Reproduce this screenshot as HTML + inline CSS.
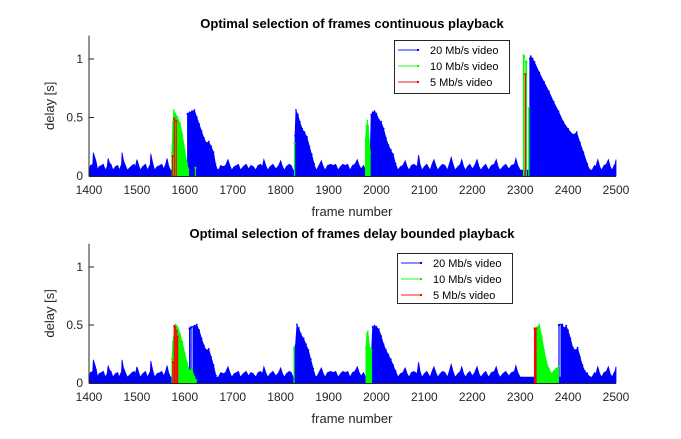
<!DOCTYPE html>
<html><head><meta charset="utf-8"><style>
body{margin:0;background:#fff}
svg{display:block;font-family:"Liberation Sans",Arial,sans-serif}
</style></head><body>
<svg id="chart" width="681" height="439" viewBox="0 0 681 439"></svg>
<script>
// ---- shared baseline data (frame, delay) ----
const baseX=[1400,1403,1408,1409,1412,1415,1418,1421,1426,1430,1434,1438,1440,1443,1446,1450,1455,1460,1463,1468,1469,1472,1476,1480,1485,1490,1494,1497,1500,1503,1507,1512,1518,1522,1528,1529,1533,1537,1542,1548,1552,1556,1560,1563,1566,1570,1575,1670,1675,1680,1685,1690,1694,1698,1703,1708,1712,1716,1722,1728,1733,1738,1743,1748,1753,1758,1762,1765,1769,1773,1778,1784,1790,1796,1800,1804,1808,1812,1818,1822,1826,1875,1880,1885,1889,1893,1898,1904,1910,1915,1920,1925,1930,1935,1940,1945,1950,1955,1960,1964,1968,1973,1977,2045,2050,2055,2060,2064,2068,2073,2078,2085,2088,2091,2095,2100,2105,2112,2116,2120,2124,2128,2133,2138,2143,2148,2152,2156,2160,2164,2170,2175,2178,2182,2186,2190,2195,2200,2205,2210,2214,2218,2223,2228,2234,2240,2246,2250,2254,2258,2264,2270,2276,2282,2288,2291,2295,2300,2303,2330,2445,2450,2455,2458,2462,2466,2470,2475,2480,2484,2488,2492,2496,2498,2500];
const baseY=[.04,.09,.10,.20,.16,.12,.05,.08,.09,.10,.05,.08,.15,.11,.10,.05,.08,.09,.05,.10,.20,.13,.09,.05,.07,.09,.10,.08,.14,.10,.05,.08,.10,.05,.10,.19,.11,.05,.08,.09,.10,.06,.10,.15,.09,.05,.05,.05,.09,.08,.09,.14,.09,.05,.08,.09,.10,.05,.08,.10,.06,.09,.08,.05,.09,.10,.08,.14,.09,.05,.08,.10,.06,.09,.13,.08,.05,.08,.10,.09,.05,.05,.09,.13,.08,.05,.09,.10,.09,.10,.05,.08,.10,.09,.10,.05,.09,.10,.14,.09,.06,.09,.05,.05,.08,.09,.13,.08,.05,.09,.10,.08,.18,.10,.05,.08,.10,.05,.10,.14,.09,.05,.08,.10,.09,.05,.10,.16,.10,.05,.08,.10,.14,.08,.05,.08,.10,.06,.09,.14,.08,.05,.08,.10,.05,.09,.10,.14,.08,.05,.08,.10,.06,.09,.10,.15,.09,.05,.05,.05,.05,.05,.09,.08,.14,.08,.05,.09,.10,.14,.08,.05,.09,.10,.14,.08];

// ---- top plot bursts ----
const topBlueAreas=[
 {x:[1607,1610,1615,1620,1625,1630,1635,1640,1645,1650,1655,1660,1664,1668],y:[0.53,0.54,0.55,0.56,0.50,0.44,0.38,0.32,0.28,0.29,0.25,0.20,0.10,0.05]},
 {x:[1830,1832,1836,1840,1845,1850,1855,1860,1865,1870,1874],y:[0.34,0.56,0.52,0.46,0.40,0.37,0.33,0.25,0.18,0.10,0.05]},
 {x:[1987,1989,1992,1996,2000,2005,2010,2015,2020,2025,2030,2035,2040,2045],y:[0.2,0.52,0.54,0.55,0.53,0.48,0.46,0.40,0.32,0.26,0.22,0.18,0.10,0.05]},
 {x:[2320,2322,2326,2330,2340,2350,2360,2370,2380,2390,2400,2410,2418,2425,2432,2440,2445],y:[1.0,1.02,1.0,0.97,0.88,0.80,0.72,0.63,0.55,0.46,0.40,0.35,0.37,0.28,0.2,0.1,0.05]}
];
const topGreenAreas=[
 {x:[1573,1575,1577,1580,1585,1590,1595,1600,1605,1608],y:[0.2,0.45,0.56,0.53,0.50,0.45,0.35,0.22,0.1,0.05]},
 {x:[1977,1979,1981,1983,1985,1987],y:[0.3,0.42,0.47,0.42,0.3,0.2]}
];
const topGreenStemX=[1622,1829,2307,2308,2312,2313,2318];
const topGreenStemY=[0.07,0.28,1.03,1.02,0.98,0.97,0.58];
const topRedStemX=[1574,1578,1582,2311];
const topRedStemY=[0.17,0.49,0.47,0.87];
const topBlueStemX=[1606];
const topBlueStemY=[0.53];

// ---- bottom plot bursts ----
const botGap=[2304,2329];
const botBlueAreas=[
 {x:[1617,1620,1625,1630,1635,1640,1645,1650,1655,1660,1665],y:[0.48,0.49,0.50,0.45,0.38,0.32,0.28,0.29,0.22,0.15,0.06]},
 {x:[1829,1831,1834,1838,1842,1848,1853,1858,1863,1868,1873],y:[0.3,0.32,0.5,0.47,0.42,0.38,0.33,0.28,0.20,0.12,0.05]},
 {x:[1990,1992,1996,2000,2005,2010,2015,2020,2025,2030,2035,2040,2045],y:[0.28,0.48,0.49,0.48,0.46,0.40,0.33,0.28,0.24,0.2,0.15,0.10,0.05]},
 {x:[2385,2388,2392,2396,2400,2405,2410,2415,2420,2425,2430,2435,2440,2445],y:[0.5,0.5,0.47,0.49,0.45,0.38,0.30,0.28,0.30,0.22,0.15,0.1,0.08,0.05]}
];
const botGreenAreas=[
 {x:[1573,1575,1580,1583,1586,1590,1595,1600,1605,1610,1615,1620,1624],y:[0.2,0.35,0.50,0.49,0.47,0.42,0.35,0.25,0.17,0.10,0.12,0.05,0.02]},
 {x:[1978,1980,1982,1986,1990],y:[0.3,0.42,0.44,0.30,0.28]},
 {x:[2333,2336,2340,2345,2350,2355,2360,2365,2370,2375,2380],y:[0.45,0.48,0.50,0.40,0.28,0.18,0.12,0.08,0.10,0.12,0.14]}
];
const botGreenStemX=[1828];
const botGreenStemY=[0.3];
const botRedStemX=[1575,1578,1580,1583,1585,2330,2331,2332,2333];
const botRedStemY=[0.18,0.49,0.48,0.45,0.40,0.47,0.47,0.46,0.47];
const botBlueStemX=[1610,1613,2381];
const botBlueStemY=[0.47,0.48,0.5];

const xTicks=[1400,1500,1600,1700,1800,1900,2000,2100,2200,2300,2400,2500];
const yTicks=[0,0.5,1];
const legendLabels=["20 Mb/s video","10 Mb/s video","5 Mb/s video"];
const BLUE="#0000ff",GREEN="#00ff00",RED="#ff0000";

const svg=document.getElementById('chart');
const NS="http://www.w3.org/2000/svg";
function mk(tag,attrs,parent){const e=document.createElementNS(NS,tag);for(const k in attrs)e.setAttribute(k,attrs[k]);(parent||svg).appendChild(e);return e;}
const X0=89,X1=616;
function xs(f){return X0+(f-1400)/(1100)*(X1-X0);}

function drawPlot(cfg){
  const g=mk('g',{});
  
  
  const ys=v=>cfg.y0-v*cfg.unit;
  // baseline
  let segs=[[]];
  for(let i=0;i<baseX.length;i++){
    if(cfg.gap&&baseX[i]>cfg.gap[0]&&baseX[i]<cfg.gap[1]){ if(segs[segs.length-1].length)segs.push([]); continue;}
    segs[segs.length-1].push([baseX[i],baseY[i]]);
  }
  segs.forEach(s=>{
    if(s.length<2)return;
    let pts=s.map(p=>xs(p[0])+','+ys(p[1]));
    const poly=mk('polygon',{points:xs(s[0][0])+','+cfg.y0+' '+pts.join(' ')+' '+xs(s[s.length-1][0])+','+cfg.y0,fill:BLUE,stroke:BLUE,'stroke-width':0.8},g);
    
    
  });
  if(cfg.gap){mk('line',{x1:xs(cfg.gap[0]),x2:xs(cfg.gap[1]),y1:cfg.y0,y2:cfg.y0,stroke:BLUE,'stroke-width':1},g);}
  function areas(list,col,nm){
    list.forEach(a=>{
      let pts=a.x.map((x,i)=>xs(x)+','+ys(a.y[i]));
      const p=mk('polygon',{points:xs(a.x[0])+','+cfg.y0+' '+pts.join(' ')+' '+xs(a.x[a.x.length-1])+','+cfg.y0,fill:col,stroke:col,'stroke-width':0.8},g);
      
      
      a.x.forEach((x,i)=>{mk('circle',{cx:xs(x),cy:ys(a.y[i])-0.5,r:0.9,fill:col},g);});
    });
  }
  function stems(X,Y,col,nm){
    X.forEach((x,i)=>{
      const l=mk('line',{x1:xs(x),x2:xs(x),y1:cfg.y0,y2:ys(Y[i]),stroke:col,'stroke-width':1.2},g);
      
      
      mk('rect',{x:xs(x)-1,y:ys(Y[i])-1,width:2,height:2,fill:col},g);
    });
  }
  areas(cfg.blue,BLUE,'blue-burst');
  stems(cfg.blueS[0],cfg.blueS[1],BLUE,'blue-stem');
  areas(cfg.green,GREEN,'green-burst');
  stems(cfg.greenS[0],cfg.greenS[1],GREEN,'green-stem');
  stems(cfg.redS[0],cfg.redS[1],RED,'red-stem');
  // axes
  const ax=mk('line',{x1:X0,x2:X0,y1:cfg.y0-1.2*cfg.unit,y2:cfg.y0+0.5,stroke:'#262626','stroke-width':1},g);
  
  
  mk('line',{x1:X0,x2:X1,y1:cfg.y0+0.5,y2:cfg.y0+0.5,stroke:'#262626','stroke-width':1},g);
  yTicks.forEach(v=>{
    mk('line',{x1:X0,x2:X0+5,y1:ys(v),y2:ys(v),stroke:'#262626'},g);
    const t=mk('text',{x:X0-6,y:ys(v)+4,'text-anchor':'end','font-size':12,fill:'#262626'},g);
    t.textContent=v;
    
    
  });
  xTicks.forEach(v=>{
    const t=mk('text',{x:xs(v),y:cfg.y0+18,'text-anchor':'middle','font-size':12,fill:'#262626'},g);
    t.textContent=v;
    
    
  });
  const xl=mk('text',{x:352,y:cfg.y0+40,'text-anchor':'middle','font-size':13,fill:'#262626'},g);
  xl.textContent='frame number';
  
  
  const yc=cfg.y0-0.6*cfg.unit;
  const yl=mk('text',{x:0,y:0,transform:`translate(54,${yc}) rotate(-90)`,'text-anchor':'middle','font-size':13,fill:'#262626'},g);
  yl.textContent='delay [s]';
  
  
  const ti=mk('text',{x:352,y:cfg.titleY,'text-anchor':'middle','font-size':13,'font-weight':'bold',fill:'#000'},g);
  ti.textContent=cfg.title;
  
  
  // legend
  const L=cfg.legend;
  const lg=mk('g',{},g);
  
  
  mk('rect',{x:L[0]+0.5,y:L[1]+0.5,width:L[2],height:L[3],fill:'#fff',stroke:'#262626','stroke-width':1},lg);
  [BLUE,GREEN,RED].forEach((c,i)=>{
    const yy=L[1]+10+i*L[4];
    mk('line',{x1:L[0]+4,x2:L[0]+25,y1:yy,y2:yy,stroke:c,'stroke-width':1.5,'stroke-opacity':0.6},lg);
    mk('rect',{x:L[0]+23,y:yy-1,width:2,height:2,fill:c},lg);
    const t=mk('text',{x:L[0]+36,y:yy+4,'font-size':11,fill:'#000'},lg);
    t.textContent=legendLabels[i];
    
    
  });
}
drawPlot({name:'top-plot',y0:176,unit:117,title:'Optimal selection of frames continuous playback',titleY:28,
  blue:topBlueAreas,green:topGreenAreas,blueS:[topBlueStemX,topBlueStemY],greenS:[topGreenStemX,topGreenStemY],redS:[topRedStemX,topRedStemY],
  legend:[394,40,115,53,16]});
drawPlot({name:'bottom-plot',y0:383,unit:116,title:'Optimal selection of frames delay bounded playback',titleY:238,gap:botGap,
  blue:botBlueAreas,green:botGreenAreas,blueS:[botBlueStemX,botBlueStemY],greenS:[botGreenStemX,botGreenStemY],redS:[botRedStemX,botRedStemY],
  legend:[397,253,115,50,16]});
</script>
</body></html>
